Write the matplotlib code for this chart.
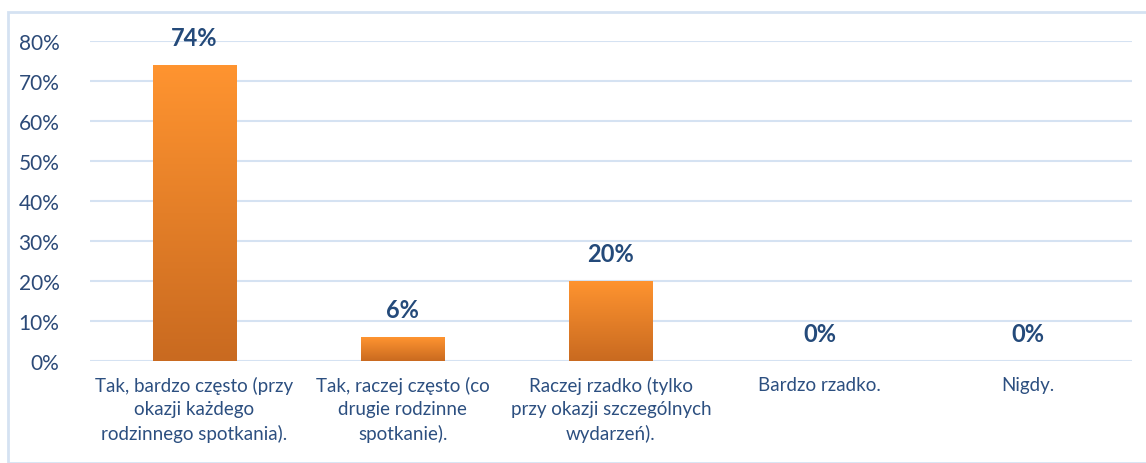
import numpy as np
import matplotlib.pyplot as plt
from matplotlib.patches import Rectangle
from matplotlib.colors import LinearSegmentedColormap

plt.rcParams['font.family'] = ['Lato', 'DejaVu Sans']

categories = [
    "Tak, bardzo często (przy\nokazji każdego\nrodzinnego spotkania).",
    "Tak, raczej często (co\ndrugie rodzinne\nspotkanie).",
    "Raczej rzadko (tylko\nprzy okazji szczególnych\nwydarzeń).",
    "Bardzo rzadko.",
    "Nigdy.",
]
values = [0.74, 0.06, 0.20, 0.0, 0.0]
labels = ["74%", "6%", "20%", "0%", "0%"]
yticks = [0, 0.1, 0.2, 0.3, 0.4, 0.5, 0.6, 0.7, 0.8]

W, H = 1146, 464
fig = plt.figure(figsize=(W / 100, H / 100), dpi=100)

# outer frame
fig.patches.append(Rectangle((8 / W, 0), 1.2, (H - 13) / H, transform=fig.transFigure,
                             fill=False, edgecolor='#D5E2F2', linewidth=2))

ax = fig.add_axes([90 / W, (H - 362) / H, (1132 - 90) / W, (362 - 42) / H])
x = np.arange(len(values))
bars = ax.bar(x, values, width=0.4, color='#E8802A', zorder=2)

# vertical gradient on bars
grad = np.linspace(0, 1, 256).reshape(-1, 1)
cmap = LinearSegmentedColormap.from_list('o', ['#C96A20', '#FF9430'])
for b in bars:
    if b.get_height() <= 0:
        continue
    im = ax.imshow(grad, cmap=cmap, aspect='auto', origin='lower', zorder=3,
                   extent=[b.get_x(), b.get_x() + b.get_width(), 0, b.get_height()])
    im.set_clip_path(b)

ax.set_xlim(-0.5, len(values) - 0.5)
ax.set_ylim(0, 0.8)
ax.set_yticks(yticks)
ax.set_yticklabels([f"{int(round(t * 100))}%" for t in yticks])
ax.set_xticks(x)
ax.set_xticklabels(categories, linespacing=1.42)
ax.tick_params(axis='y', length=0, pad=22, labelsize=15, labelcolor='#2C4A78')
ax.tick_params(axis='x', length=0, pad=11, labelsize=13.5, labelcolor='#2C4F80')
ax.grid(axis='y', color='#D5E2F2', linewidth=1.5, zorder=0)
for s in ax.spines.values():
    s.set_visible(False)
ax.set_axisbelow(True)

for xi, v, t in zip(x, values, labels):
    ax.text(xi, v + 0.068, t, ha='center', va='center', fontsize=17,
            fontweight='bold', color='#244A7A')

fig.savefig('out.png', dpi=100)
